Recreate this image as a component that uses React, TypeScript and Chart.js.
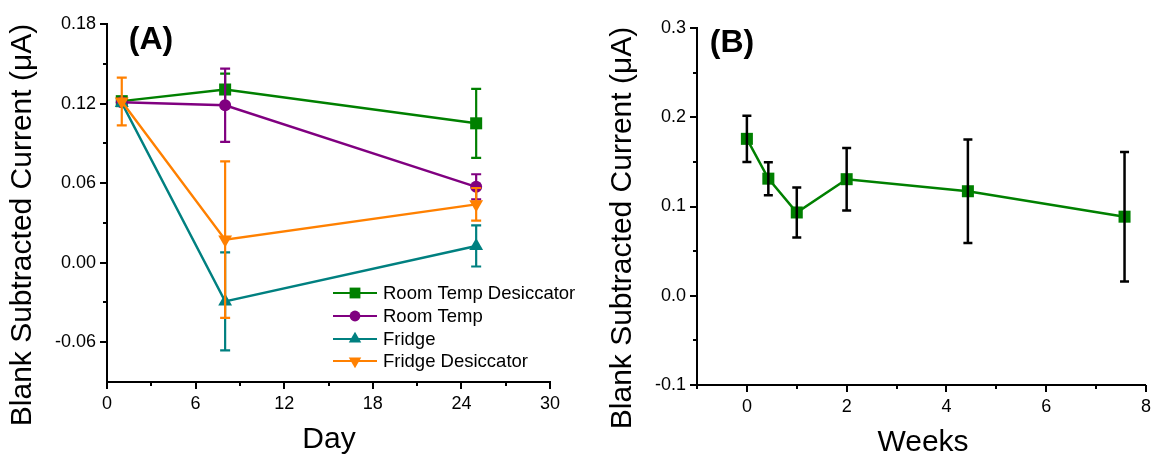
import React, { useEffect, useRef } from 'react';
import { Chart, registerables } from 'chart.js';

Chart.register(...registerables);

const FONT = "'Liberation Sans', Arial, Helvetica, sans-serif";

// ---------- Panel A data ----------
const days = [1, 8, 25];
const seriesNamesA = ['Room Temp Desiccator', 'Room Temp', 'Fridge', 'Fridge Desiccator'];
const roomTempDesiccator = [0.1218, 0.1306, 0.1051];
const roomTempDesiccatorErr = [0.002, 0.012, 0.026];
const roomTemp = [0.121, 0.1187, 0.0572];
const roomTempErr = [0.002, 0.0276, 0.0095];
const fridge = [0.1205, -0.0292, 0.0126];
const fridgeErr = [0.002, 0.037, 0.0155];
const fridgeDesiccator = [0.1215, 0.0174, 0.044];
const fridgeDesiccatorErr = [0.018, 0.059, 0.0123];
const colorsA = ['#008000', '#800080', '#008080', '#FF8000'];

const dayMajorTicks = [0, 6, 12, 18, 24, 30];
const dayMinorTicks = [3, 9, 15, 21, 27];
const currentMajorTicksA = [-0.06, 0, 0.06, 0.12, 0.18];
const currentMinorTicksA = [-0.03, 0.03, 0.09, 0.15];

// ---------- Panel B data ----------
const weeks = [0, 0.43, 1, 2, 4.43, 7.57];
const weeksCurrent = [0.1758, 0.1312, 0.0933, 0.1306, 0.1171, 0.0886];
const weeksErr = [0.026, 0.0185, 0.028, 0.035, 0.058, 0.0726];
const weekMajorTicks = [0, 2, 4, 6, 8];
const weekMinorTicks = [-1, 1, 3, 5, 7];
const currentMajorTicksB = [-0.1, 0, 0.1, 0.2, 0.3];
const currentMinorTicksB = [-0.05, 0.05, 0.15, 0.25];

const Y_TITLE = 'Blank Subtracted Current (\u03bcA)';

type Marker = { style: string; rot: number; radius: number };
const markersA: Marker[] = [
  { style: 'rect', rot: 0, radius: 8.5 },
  { style: 'circle', rot: 0, radius: 6 },
  { style: 'triangle', rot: 0, radius: 8 },
  { style: 'triangle', rot: 180, radius: 8 },
];

function drawMarker(ctx: CanvasRenderingContext2D, m: Marker, x: number, y: number, r: number) {
  ctx.beginPath();
  if (m.style === 'rect') {
    const s = r * Math.SQRT1_2;
    ctx.rect(x - s, y - s, 2 * s, 2 * s);
  } else if (m.style === 'circle') {
    ctx.arc(x, y, r, 0, Math.PI * 2);
  } else {
    const sgn = m.rot === 180 ? -1 : 1;
    for (let k = 0; k < 3; k++) {
      const a = (k * 2 * Math.PI) / 3;
      const px = x + Math.sin(a) * r;
      const py = y - sgn * Math.cos(a) * r;
      if (k === 0) ctx.moveTo(px, py);
      else ctx.lineTo(px, py);
    }
    ctx.closePath();
  }
  ctx.fill();
}

function ticksPlugin(xMajor: number[], xMinor: number[], yMajor: number[], yMinor: number[]) {
  return {
    id: 'axisTicks',
    afterDraw(chart: any) {
      const { ctx, chartArea, scales } = chart;
      ctx.save();
      ctx.strokeStyle = '#000';
      ctx.lineWidth = 2;
      const dx = (v: number, len: number) => {
        const px = Math.round(scales.x.getPixelForValue(v));
        ctx.beginPath();
        ctx.moveTo(px, chartArea.bottom);
        ctx.lineTo(px, chartArea.bottom + len);
        ctx.stroke();
      };
      const dy = (v: number, len: number) => {
        const py = Math.round(scales.y.getPixelForValue(v));
        ctx.beginPath();
        ctx.moveTo(chartArea.left, py);
        ctx.lineTo(chartArea.left - len, py);
        ctx.stroke();
      };
      xMajor.forEach((v) => dx(v, 7));
      xMinor.forEach((v) => dx(v, 4));
      yMajor.forEach((v) => dy(v, 7));
      yMinor.forEach((v) => dy(v, 4));
      ctx.restore();
    },
  };
}

const errorBarPlugin = {
  id: 'errorBars',
  afterDatasetDraw(chart: any, args: any) {
    const ds = chart.data.datasets[args.index];
    const errs: number[] = ds.errors;
    if (!errs) return;
    const { ctx, scales } = chart;
    ctx.save();
    ctx.strokeStyle = ds.errorColor;
    ctx.lineWidth = ds.errorWidth;
    ds.data.forEach((p: any, i: number) => {
      const e = errs[i];
      const x = scales.x.getPixelForValue(p.x);
      const yt = scales.y.getPixelForValue(p.y + e);
      const yb = scales.y.getPixelForValue(p.y - e);
      const cw = ds.capHalf;
      ctx.beginPath();
      ctx.moveTo(x, yt);
      ctx.lineTo(x, yb);
      ctx.moveTo(x - cw, yt);
      ctx.lineTo(x + cw, yt);
      ctx.moveTo(x - cw, yb);
      ctx.lineTo(x + cw, yb);
      ctx.stroke();
    });
    ctx.restore();
  },
};

type TextItem = { text: string; x: number; y: number; font: string; rotate?: boolean };
function textPlugin(items: TextItem[]) {
  return {
    id: 'texts',
    afterDraw(chart: any) {
      const { ctx } = chart;
      items.forEach((t) => {
        ctx.save();
        ctx.fillStyle = '#000';
        ctx.font = t.font;
        ctx.textAlign = 'center';
        ctx.textBaseline = 'middle';
        ctx.translate(t.x, t.y);
        if (t.rotate) ctx.rotate(-Math.PI / 2);
        ctx.fillText(t.text, 0, 0);
        ctx.restore();
      });
    },
  };
}

const legendPluginA = {
  id: 'legendA',
  afterDraw(chart: any) {
    const { ctx } = chart;
    const ys = [293, 316, 339, 361];
    seriesNamesA.forEach((name, i) => {
      const y = ys[i];
      ctx.save();
      ctx.strokeStyle = colorsA[i];
      ctx.fillStyle = colorsA[i];
      ctx.lineWidth = 2.2;
      ctx.beginPath();
      ctx.moveTo(333, y);
      ctx.lineTo(377, y);
      ctx.stroke();
      const m = markersA[i];
      drawMarker(ctx, m, 355, y, m.radius * 0.9);
      ctx.fillStyle = '#000';
      ctx.font = `18.5px ${FONT}`;
      ctx.textAlign = 'left';
      ctx.textBaseline = 'middle';
      ctx.fillText(name, 383, y + 1);
      ctx.restore();
    });
  },
};

function axisCommon(min: number, max: number, major: number[], fmt: (v: number) => string) {
  return {
    type: 'linear' as const,
    min,
    max,
    afterBuildTicks: (s: any) => {
      s.ticks = major.map((v) => ({ value: v }));
    },
    grid: { display: false, drawTicks: true, tickLength: 7 },
    border: { display: true, color: '#000', width: 2 },
    ticks: {
      color: '#000',
      font: { family: FONT, size: 18 },
      padding: 4,
      maxRotation: 0,
      autoSkip: false,
      callback: (v: any) => fmt(Number(v)),
    },
  };
}

export default function App() {
  const refA = useRef<HTMLCanvasElement>(null);
  const refB = useRef<HTMLCanvasElement>(null);

  useEffect(() => {
    document.body.style.margin = '0';
    const valsA = [roomTempDesiccator, roomTemp, fridge, fridgeDesiccator];
    const errsA = [roomTempDesiccatorErr, roomTempErr, fridgeErr, fridgeDesiccatorErr];

    const chartA = new Chart(refA.current!, {
      type: 'line',
      data: {
        datasets: seriesNamesA.map((name, i) => ({
          label: name,
          data: days.map((d, j) => ({ x: d, y: valsA[i][j] })),
          errors: errsA[i],
          errorColor: colorsA[i],
          errorWidth: 2.2,
          capHalf: 5,
          borderColor: colorsA[i],
          backgroundColor: colorsA[i],
          borderWidth: 2.4,
          pointStyle: markersA[i].style,
          pointRotation: markersA[i].rot,
          pointRadius: markersA[i].radius,
          pointBorderWidth: 0,
          pointHoverRadius: markersA[i].radius,
          tension: 0,
          fill: false,
          order: -i,
        })) as any,
      },
      options: {
        responsive: false,
        animation: false,
        devicePixelRatio: 1,
        events: [],
        layout: { padding: { top: 24, right: 90, left: 0, bottom: 0 } },
        plugins: { legend: { display: false }, tooltip: { enabled: false } },
        scales: {
          x: { ...axisCommon(0, 30, dayMajorTicks, (v) => String(v)), afterFit: (s: any) => { s.height = 74; } },
          y: { ...axisCommon(-0.09, 0.18, currentMajorTicksA, (v) => v.toFixed(2)), afterFit: (s: any) => { s.width = 107; } },
        } as any,
      },
      plugins: [
        errorBarPlugin,
        ticksPlugin(dayMajorTicks, dayMinorTicks, currentMajorTicksA, currentMinorTicksA),
        legendPluginA,
        textPlugin([
          { text: Y_TITLE, x: 23, y: 225, font: `30px ${FONT}`, rotate: true },
          { text: '(A)', x: 151, y: 40, font: `bold 32px ${FONT}` },
          { text: 'Day', x: 329, y: 440, font: `30px ${FONT}` },
        ]),
      ] as any,
    });

    const chartB = new Chart(refB.current!, {
      type: 'line',
      data: {
        datasets: [
          {
            label: 'Current',
            data: weeks.map((w, j) => ({ x: w, y: weeksCurrent[j] })),
            errors: weeksErr,
            errorColor: '#000',
            errorWidth: 2.5,
            capHalf: 4.5,
            borderColor: '#008000',
            backgroundColor: '#008000',
            borderWidth: 2.5,
            pointStyle: 'rect',
            pointRadius: 8.5,
            pointBorderWidth: 0,
            pointHoverRadius: 8.5,
            tension: 0,
            fill: false,
          },
        ] as any,
      },
      options: {
        responsive: false,
        animation: false,
        devicePixelRatio: 1,
        events: [],
        layout: { padding: { top: 28, right: 8, left: 0, bottom: 0 } },
        plugins: { legend: { display: false }, tooltip: { enabled: false } },
        scales: {
          x: { ...axisCommon(-1, 8, weekMajorTicks, (v) => String(v)), afterFit: (s: any) => { s.height = 71; } },
          y: { ...axisCommon(-0.1, 0.3, currentMajorTicksB, (v) => v.toFixed(1)), afterFit: (s: any) => { s.width = 117; } },
        } as any,
      },
      plugins: [
        errorBarPlugin,
        ticksPlugin(weekMajorTicks, weekMinorTicks, currentMajorTicksB, currentMinorTicksB),
        textPlugin([
          { text: Y_TITLE, x: 43, y: 228, font: `30px ${FONT}`, rotate: true },
          { text: '(B)', x: 152, y: 43, font: `bold 32px ${FONT}` },
          { text: 'Weeks', x: 343, y: 443, font: `30px ${FONT}` },
        ]),
      ] as any,
    });

    return () => {
      chartA.destroy();
      chartB.destroy();
    };
  }, []);

  return (
    <div style={{ position: 'fixed', left: 0, top: 0, width: 1155, height: 456, background: '#fff' }}>
      <canvas ref={refA} width={640} height={456} style={{ position: 'absolute', left: 0, top: 0, width: 640, height: 456 }} />
      <canvas ref={refB} width={575} height={456} style={{ position: 'absolute', left: 580, top: 0, width: 575, height: 456 }} />
    </div>
  );
}
